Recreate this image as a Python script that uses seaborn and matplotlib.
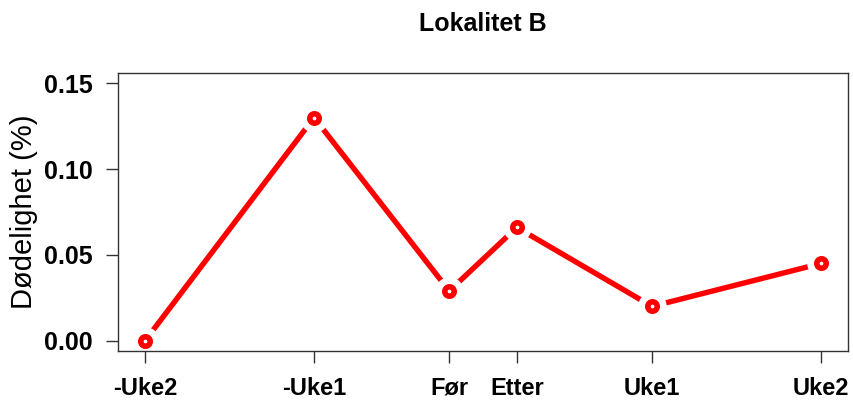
import matplotlib
matplotlib.use("Agg")
import matplotlib.pyplot as plt
import numpy as np
import pandas as pd
import seaborn as sns

periods = ["-Uke2", "-Uke1", "Før", "Etter", "Uke1", "Uke2"]
x_pos = [-2, -1, -0.2, 0.2, 1, 2]
mortality = [0.0, 0.130, 0.029, 0.066, 0.020, 0.045]
y_ticks = [0.00, 0.05, 0.10, 0.15]

df = pd.DataFrame({"x": x_pos, "y": mortality, "periode": periods})

sns.set_style("white")
plt.rcParams["font.family"] = ["Liberation Sans", "DejaVu Sans"]
plt.rcParams["text.color"] = "black"
plt.rcParams["xtick.color"] = "black"
plt.rcParams["ytick.color"] = "black"
plt.rcParams["axes.labelcolor"] = "black"

fig = plt.figure(figsize=(8.54, 4.01), dpi=100)
ax = fig.add_axes([0.1382, 0.1247, 0.8548, 0.6933])

red = "#ff0000"
sns.lineplot(data=df, x="x", y="y", ax=ax, color=red, lw=3.9, sort=False,
             solid_capstyle="round", zorder=2)
# white halo to break the line around points (like R type="b")
ax.plot(df["x"], df["y"], "o", ms=19.5, color="white", mec="white", zorder=3)
ax.plot(df["x"], df["y"], "o", ms=6.8, mew=4.0, mfc="white", mec=red, zorder=4)

ax.set_xlim(-2.16, 2.16)
ax.set_ylim(-0.006, 0.156)
ax.set_xticks(x_pos)
ax.set_xticklabels([])
# baseline-aligned labels, R style
for xp, lab in zip(x_pos, periods):
    ax.text(xp, -0.158, lab, transform=ax.get_xaxis_transform(), ha="center",
            va="baseline", fontsize=17, fontweight="bold", clip_on=False)
ax.set_yticks(y_ticks)
ax.set_yticklabels([f"{v:.2f}" for v in y_ticks], fontsize=18, fontweight="bold")
ax.tick_params(axis="x", length=8.5, width=1, color="#333333", bottom=True)
ax.tick_params(axis="y", length=8.5, width=1, color="#333333", pad=10, left=True)
ax.set_xlabel("")
ax.set_ylabel("Dødelighet (%)", fontsize=21, labelpad=4)
ax.set_title("Lokalitet B", fontsize=18, fontweight="bold", pad=30)
for s in ax.spines.values():
    s.set_color("#333333")
    s.set_linewidth(1)
    s.set_zorder(3.5)

fig.savefig("out.png", dpi=100)
